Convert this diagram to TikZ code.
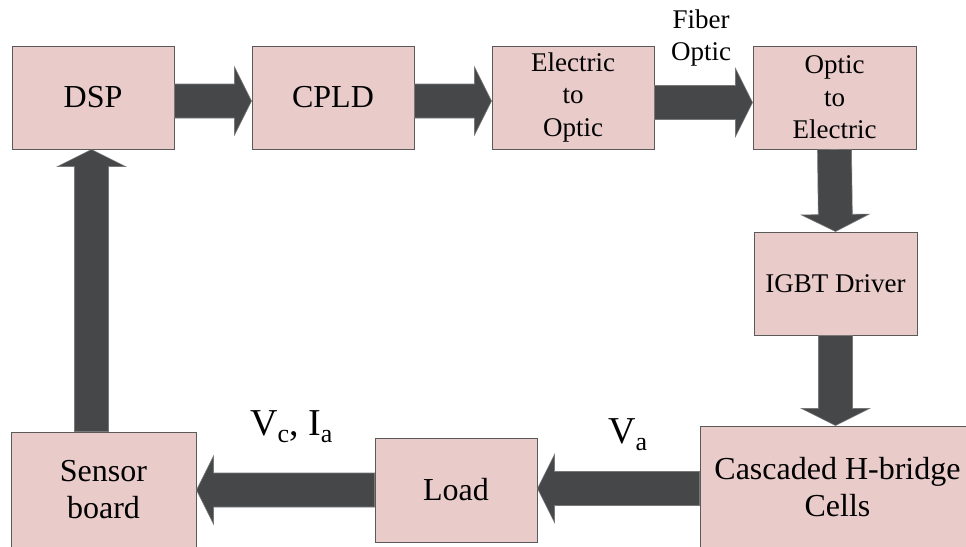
\documentclass[tikz,border=0pt]{standalone}
\usepackage{fontspec}
\setmainfont{Liberation Serif}
\newfontfamily\tmsfont{Liberation Serif}
\usetikzlibrary{calc}
\definecolor{boxfill}{RGB}{233,203,202}
\definecolor{boxline}{RGB}{90,90,90}
\definecolor{arrfill}{RGB}{70,71,73}
\definecolor{arrline}{RGB}{120,120,120}
\tikzset{
  blk/.style={draw=boxline, line width=1pt, fill=boxfill, inner sep=0pt},
  txtnode/.style={inner sep=0pt, align=center},
  big/.style={font=\tmsfont\fontsize{32}{37}\selectfont},
  small/.style={font=\tmsfont\fontsize{27}{32.5}\selectfont},
  barrow/.style={fill=arrfill, draw=arrline, line width=0.6pt}
}
\newcommand\blockarrow[2]{%
  \coordinate (ba-h) at ($(#2)!17pt!(#1)$);
  \filldraw[barrow] ($(#1)!17pt!90:(#2)$) -- ($(ba-h)!17pt!90:(#2)$) -- ($(ba-h)!34pt!90:(#2)$) -- (#2)
    -- ($(ba-h)!34pt!-90:(#2)$) -- ($(ba-h)!17pt!-90:(#2)$) -- ($(#1)!17pt!-90:(#2)$) -- cycle;
}
\begin{document}
\begin{tikzpicture}[x=1pt, y=-1pt]
\useasboundingbox (0,0) rectangle (966,546);
\node[blk, minimum width=162pt, minimum height=103pt] (dsp) at (93,97.5) {};
\node[blk, minimum width=162pt, minimum height=103pt] (cpld) at (333,97.5) {};
\node[blk, minimum width=162pt, minimum height=103pt] (eo) at (573,97.5) {};
\node[blk, minimum width=163pt, minimum height=103pt] (oe) at (834.5,97.5) {};
\node[blk, minimum width=163pt, minimum height=103pt] (igbt) at (835.5,283.5) {};
\node[blk, minimum width=275pt, minimum height=122pt] (casc) at (837.5,487) {};
\node[blk, minimum width=162pt, minimum height=104pt] (load) at (456,490) {};
\node[blk, minimum width=185pt, minimum height=116pt] (sensor) at (103.5,490) {};

\node[txtnode, big] (dsp-t) at (dsp) {DSP};
\node[txtnode, big] (cpld-t) at (cpld) {CPLD};
\node[txtnode, small] (eo-t) at (eo) {Electric\\to\\Optic};
\node[txtnode, small] (oe-t) at (oe) {Optic\\to\\Electric};
\node[txtnode, small] (igbt-t) at (igbt) {IGBT Driver};
\node[txtnode, big] (casc-t) at (casc) {Cascaded H-bridge\\Cells};
\node[txtnode, big] (load-t) at (load) {Load};
\node[txtnode, big] (sensor-t) at (sensor) {Sensor\\board};

\coordinate (a1s) at ($(dsp.east)+(0,3.5)$);
\coordinate (a1e) at ($(cpld.west)+(0,3.5)$);
\blockarrow{a1s}{a1e}
\coordinate (a2s) at ($(cpld.east)+(0,3.5)$);
\coordinate (a2e) at ($(eo.west)+(0,3.5)$);
\blockarrow{a2s}{a2e}
\coordinate (a3s) at ($(eo.east)+(0,5)$);
\coordinate (a3e) at ($(oe.west)+(0,5)$);
\blockarrow{a3s}{a3e}
\blockarrow{oe.south}{igbt.north}
\coordinate (a5e) at (igbt.south |- casc.north);
\blockarrow{igbt.south}{a5e}
\coordinate (a6s) at ($(casc.west)+(0,1.5)$);
\coordinate (a6e) at ($(load.east)+(0,-1.5)$);
\blockarrow{a6s}{a6e}
\blockarrow{load.west}{sensor.east}
\coordinate (a8s) at ($(dsp.south |- sensor.north)+(-1.5,0)$);
\coordinate (a8e) at ($(dsp.south)+(-1.5,0)$);
\blockarrow{a8s}{a8e}

\node[txtnode, small] (fiber) at (701,38) {Fiber\\Optic};
\node[inner sep=0pt, anchor=base west, font=\tmsfont\fontsize{38}{40}\selectfont] (vcia) at (250,435)
  {V\raisebox{-7pt}{\fontsize{26}{26}\selectfont c}, I\raisebox{-7pt}{\fontsize{26}{26}\selectfont a}};
\node[inner sep=0pt, anchor=base west, font=\tmsfont\fontsize{38}{40}\selectfont] (va) at (608,443)
  {V\raisebox{-7pt}{\fontsize{26}{26}\selectfont a}};
\end{tikzpicture}
\end{document}
